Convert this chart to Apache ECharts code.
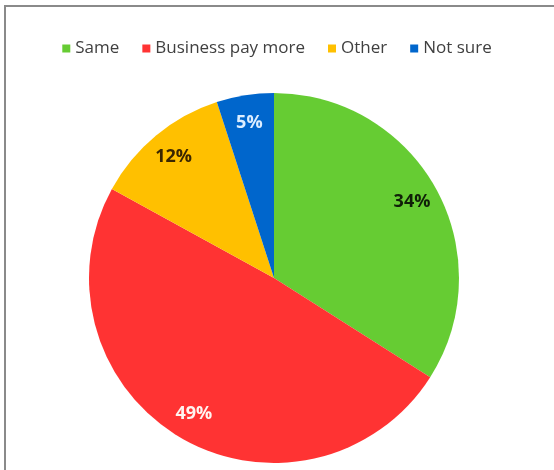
<!DOCTYPE html>
<html><head><meta charset="utf-8">
<script src="https://cdn.jsdelivr.net/npm/echarts@6/dist/echarts.min.js"></script>
<style>html,body{margin:0;padding:0;background:#fff}#c{width:554px;height:470px}</style>
</head><body><div id="c"></div>
<script>
const categories = ['Same', 'Business pay more', 'Other', 'Not sure'];
const values = [34, 49, 12, 5];
const colors = ['#66CC33', '#FF3333', '#FFC000', '#0066CC'];
const labelColors = ['#102008', '#FFF4F0', '#3A2600', '#DDEEFF'];

const chart = echarts.init(document.getElementById('c'));
const data = categories.map((n, i) => ({ name: n, value: values[i], itemStyle: { color: colors[i] } }));
const labelData = categories.map((n, i) => ({ name: n, value: values[i], label: { color: labelColors[i] } }));
chart.setOption({
  animation: false,
  backgroundColor: '#fff',
  graphic: [{ type: 'rect', shape: { x: 5, y: 6, width: 600, height: 520 }, style: { fill: 'none', stroke: '#8a8a8a', lineWidth: 2 }, silent: true }],
  legend: {
    data: categories, top: 35, left: 'center', itemWidth: 8, itemHeight: 8, itemGap: 23, icon: 'rect',
    textStyle: { fontFamily: 'Open Sans', fontSize: 17, color: '#404040' }
  },
  series: [{
    type: 'pie', center: [274, 278], radius: [0, 185], startAngle: 90, clockwise: true,
    data: data, label: { show: false }, labelLine: { show: false },
    itemStyle: { borderWidth: 0 }, emphasis: { disabled: true }, silent: true
  }, {
    type: 'pie', center: [274, 278], radius: [124, 185], startAngle: 90, clockwise: true,
    data: labelData, itemStyle: { color: 'rgba(0,0,0,0)' }, silent: true, emphasis: { disabled: true },
    legendHoverLink: false,
    label: { show: true, position: 'inside', formatter: '{c}%', fontFamily: 'Open Sans', fontWeight: 'bold', fontSize: 18 },
    labelLine: { show: false }
  }]
});
</script></body></html>
